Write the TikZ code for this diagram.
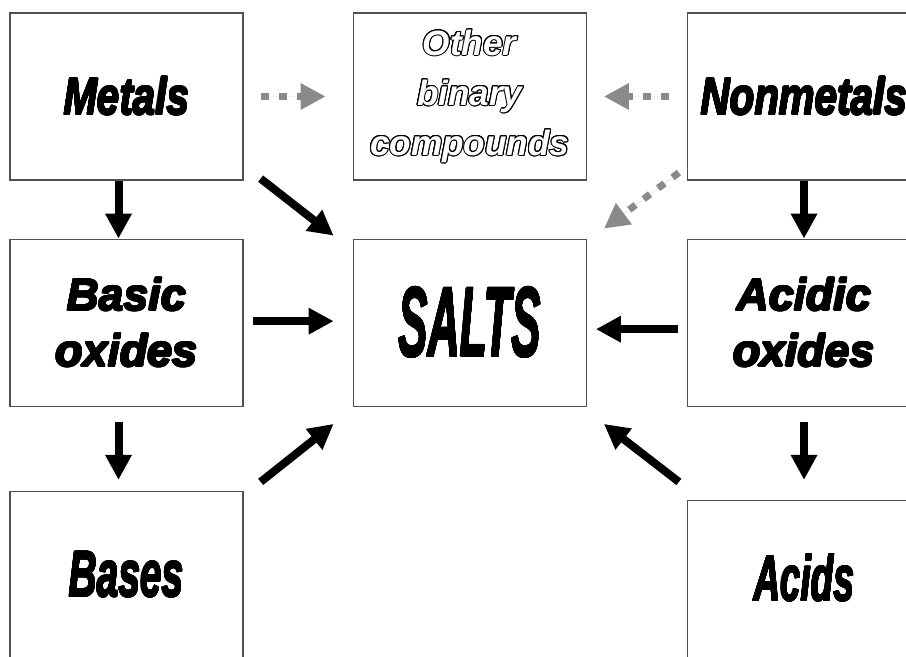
\documentclass[tikz,border=0pt]{standalone}
\usepackage{fontspec}
\setmainfont{Liberation Sans}
\usepackage{graphicx}
\usepackage{contour}
\usetikzlibrary{arrows.meta, positioning}
\usepackage{xcolor}

\definecolor{boxline}{HTML}{505050}
\definecolor{dotgray}{HTML}{8A8A8A}

% heavy italic label: xscale, text
\newcommand{\heavylabel}[2]{{\bfseries\itshape\contourlength{0.6pt}\scalebox{#1}[1]{\contour{black}{#2}}}}
% outlined label: text
\newcommand{\hollowlabel}[1]{{\bfseries\itshape\contourlength{0.7pt}\color{white}\contour{black}{#1}}}

\begin{document}
\begin{tikzpicture}[node distance=1.45cm and 2.725cm]

  % styles
  \tikzstyle{box} = [rectangle, minimum width=5.825cm, minimum height=4.175cm, inner sep=0pt, align=center, draw=boxline, line width=0.9pt]
  \tikzstyle{arrow} = [line width=0.2cm, -{Triangle[length=0.625cm, width=0.625cm]}]
  \tikzstyle{dotarrow} = [arrow, draw=dotgray, fill=dotgray, line width=0.175cm, dash pattern=on 0.2cm off 0.25cm]

  \useasboundingbox (0,0) rectangle (22.65,-16.425);

  % left column
  \node (metals) [box, font=\fontsize{36.8pt}{40pt}\selectfont] at (3.1625,-2.4125) {\heavylabel{0.78}{Metals}};
  \node (basic) [box, below=of metals, font=\fontsize{31.8pt}{39.8pt}\selectfont] {\heavylabel{1}{Basic}\\ \heavylabel{1}{oxides}};
  \node (bases) [box, below=2.1cm of basic, font=\fontsize{46pt}{48pt}\selectfont] {\heavylabel{0.6}{Bases}};

  % middle column
  \node (other) [box, right=of metals, font=\fontsize{25pt}{35.6pt}\selectfont] {\hollowlabel{Other}\\ \hollowlabel{binary}\\ \hollowlabel{compounds}};
  \node (salts) [box, below=of other, font=\fontsize{70.4pt}{72pt}\selectfont] {\heavylabel{0.45}{SALTS}};

  % right column
  \node (nonmetals) [box, right=2.5cm of other, font=\fontsize{36.8pt}{40pt}\selectfont] {\heavylabel{0.78}{Nonmetals}};
  \node (acidic) [box, below=of nonmetals, font=\fontsize{31.8pt}{39.8pt}\selectfont] {\heavylabel{1}{Acidic}\\ \heavylabel{1}{oxides}};
  \node (acids) [box, below=2.325cm of acidic, font=\fontsize{46pt}{48pt}\selectfont] {\raisebox{0.325cm}{\heavylabel{0.57}{Acids}}};

  % arrows down
  \draw [arrow] ([xshift=-0.2cm]metals.south) -- ([xshift=-0.2cm]basic.north);
  \draw [arrow, shorten <=0.375cm, shorten >=0.275cm] ([xshift=-0.2cm]basic.south) -- ([xshift=-0.2cm]bases.north);
  \draw [arrow] (nonmetals.south) -- (acidic.north);
  \draw [arrow, shorten <=0.375cm, shorten >=0.5cm] (acidic.south) -- (acids.north);

  % arrows to salts
  \draw [arrow] ([shift={(0.425,0.05)}]metals.south east) -- ([shift={(-0.475,0.075)}]salts.north west);
  \draw [arrow] ([shift={(0.225,0.04)}]basic.east) -- ([shift={(-0.475,0.04)}]salts.west);
  \draw [arrow] ([shift={(0.425,0.225)}]bases.north east) -- ([shift={(-0.475,-0.425)}]salts.south west);
  \draw [arrow] ([shift={(-0.225,-0.16)}]acidic.west) -- ([shift={(0.225,-0.16)}]salts.east);
  \draw [arrow] ([shift={(-0.2,0.45)}]acids.north west) -- ([shift={(0.425,-0.425)}]salts.south east);

  % dotted arrows
  \draw [dotarrow] ([xshift=0.425cm]metals.east) -- ([xshift=-0.675cm]other.west);
  \draw [dotarrow] ([xshift=-0.45cm]nonmetals.west) -- ([xshift=0.425cm]other.east);
  \draw [dotarrow] ([shift={(-0.2,0.2)}]nonmetals.south west) -- ([shift={(0.425,0.25)}]salts.north east);

\end{tikzpicture}
\end{document}
